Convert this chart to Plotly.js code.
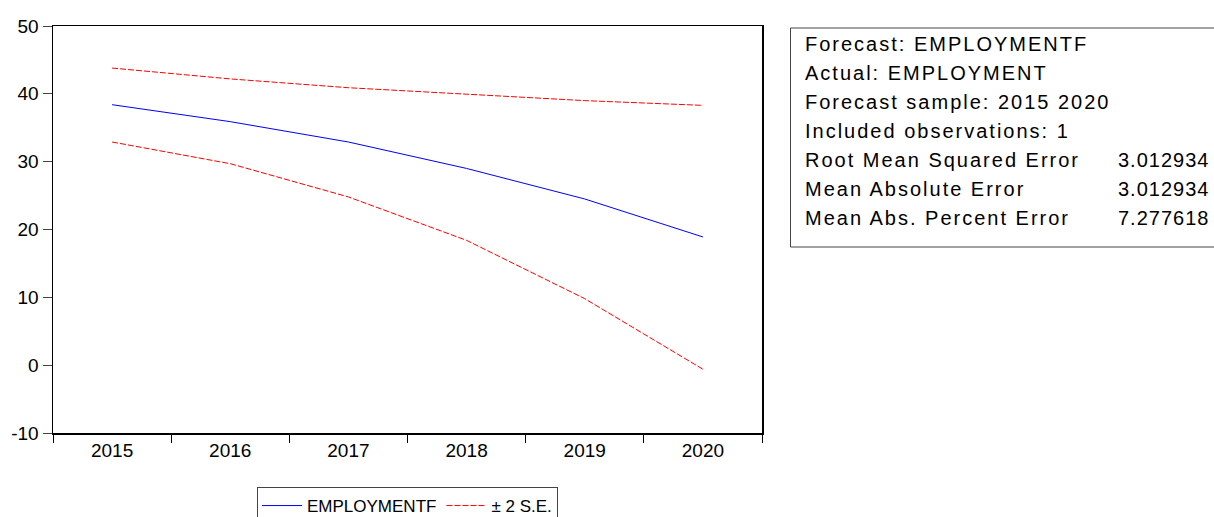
<!DOCTYPE html>
<html>
<head>
<meta charset="utf-8">
<script src="https://cdn.plot.ly/plotly-3.0.1.min.js"></script>
<style>
  html, body { margin: 0; padding: 0; background: #fff; }
  #chart { width: 1214px; height: 517px; }
  .annotation .annotation-text { letter-spacing: 2px; }
  .annotation[data-index="7"] .annotation-text,
  .annotation[data-index="8"] .annotation-text,
  .annotation[data-index="9"] .annotation-text { letter-spacing: 1px; }
</style>
</head>
<body>
<div id="chart"></div>
<script>
// ---- data ----
const years = ['2015', '2016', '2017', '2018', '2019', '2020'];
const forecast = [38.4, 35.9, 32.9, 29.0, 24.5, 18.9];
const upperBand = [43.8, 42.2, 40.9, 39.9, 39.0, 38.3];
const lowerBand = [32.9, 29.7, 24.8, 18.4, 9.8, -0.6];
const seriesNames = ['EMPLOYMENTF', '\u00B1 2 S.E.'];
const statLabels = [
  'Forecast: EMPLOYMENTF',
  'Actual: EMPLOYMENT',
  'Forecast sample: 2015 2020',
  'Included observations: 1',
  'Root Mean Squared Error',
  'Mean Absolute Error',
  'Mean Abs. Percent Error'
];
const statValues = ['3.012934', '3.012934', '7.277618'];
const statValueRows = [4, 5, 6];
const yTicks = [-10, 0, 10, 20, 30, 40, 50];

// ---- layout helpers (pixel -> paper) ----
const FIG_W = 1214, FIG_H = 517;
const M = { l: 53, r: 452, t: 26, b: 84 };
const PW = FIG_W - M.l - M.r, PH = FIG_H - M.t - M.b;
const px = x => (x - M.l) / PW;
const py = y => (M.t + PH - y) / PH;

const FONT = 'Liberation Sans, Arial, Helvetica, sans-serif';

const traces = [
  {
    x: years, y: forecast, type: 'scatter', mode: 'lines',
    name: seriesNames[0],
    line: { color: '#0000FF', width: 1 }
  },
  {
    x: years, y: upperBand, type: 'scatter', mode: 'lines',
    name: seriesNames[1], legendgroup: 'se',
    line: { color: '#FF0000', width: 1, dash: '6px,2px' }
  },
  {
    x: years, y: lowerBand, type: 'scatter', mode: 'lines',
    name: seriesNames[1], legendgroup: 'se', showlegend: false,
    line: { color: '#FF0000', width: 1, dash: '6px,2px' }
  }
];

const annotations = [];
statLabels.forEach((t, i) => {
  annotations.push({
    xref: 'paper', yref: 'paper', x: px(804), y: py(44 + 29 * i),
    xanchor: 'left', yanchor: 'middle', align: 'left', showarrow: false, text: t,
    font: { family: FONT, size: 20, color: '#000' }, borderpad: 0
  });
});
statValues.forEach((v, k) => {
  annotations.push({
    xref: 'paper', yref: 'paper', x: px(1117), y: py(44 + 29 * statValueRows[k]),
    xanchor: 'left', yanchor: 'middle', align: 'left', showarrow: false, text: v,
    font: { family: FONT, size: 20, color: '#000' }, borderpad: 0
  });
});

const layout = {
  width: FIG_W, height: FIG_H,
  margin: { l: M.l, r: M.r, t: M.t, b: M.b, autoexpand: false },
  paper_bgcolor: '#fff', plot_bgcolor: '#fff',
  font: { family: FONT, size: 18, color: '#000' },
  showlegend: true,
  xaxis: {
    type: 'category', range: [-0.5, 5.5], tickson: 'boundaries',
    ticks: 'outside', ticklen: 8, tickwidth: 1, tickcolor: '#000',
    showline: true, mirror: true, linecolor: '#000', linewidth: 1.5,
    showgrid: false, zeroline: false, fixedrange: true,
    tickfont: { family: FONT, size: 19, color: '#000' }
  },
  yaxis: {
    range: [-10, 50], tickvals: yTicks, ticktext: yTicks.map(String),
    ticks: 'outside', ticklen: 9, tickwidth: 1, tickcolor: '#444',
    showline: true, mirror: true, linecolor: '#000', linewidth: 1.5,
    showgrid: false, zeroline: false, fixedrange: true,
    tickfont: { family: FONT, size: 19, color: '#000' }
  },
  legend: {
    orientation: 'h', x: 0.5, xanchor: 'center', y: py(487), yanchor: 'top',
    bordercolor: '#444', borderwidth: 1, bgcolor: '#fff', itemwidth: 40,
    font: { family: FONT, size: 17, color: '#000' }
  },
  shapes: [
    {
      type: 'rect', xref: 'paper', yref: 'paper',
      x0: px(790.5), x1: px(1230), y0: py(247), y1: py(28),
      line: { color: '#444', width: 1 }, fillcolor: 'rgba(0,0,0,0)'
    }
  ],
  annotations: annotations
};

Plotly.newPlot('chart', traces, layout, { staticPlot: true, displayModeBar: false });
</script>
</body>
</html>
